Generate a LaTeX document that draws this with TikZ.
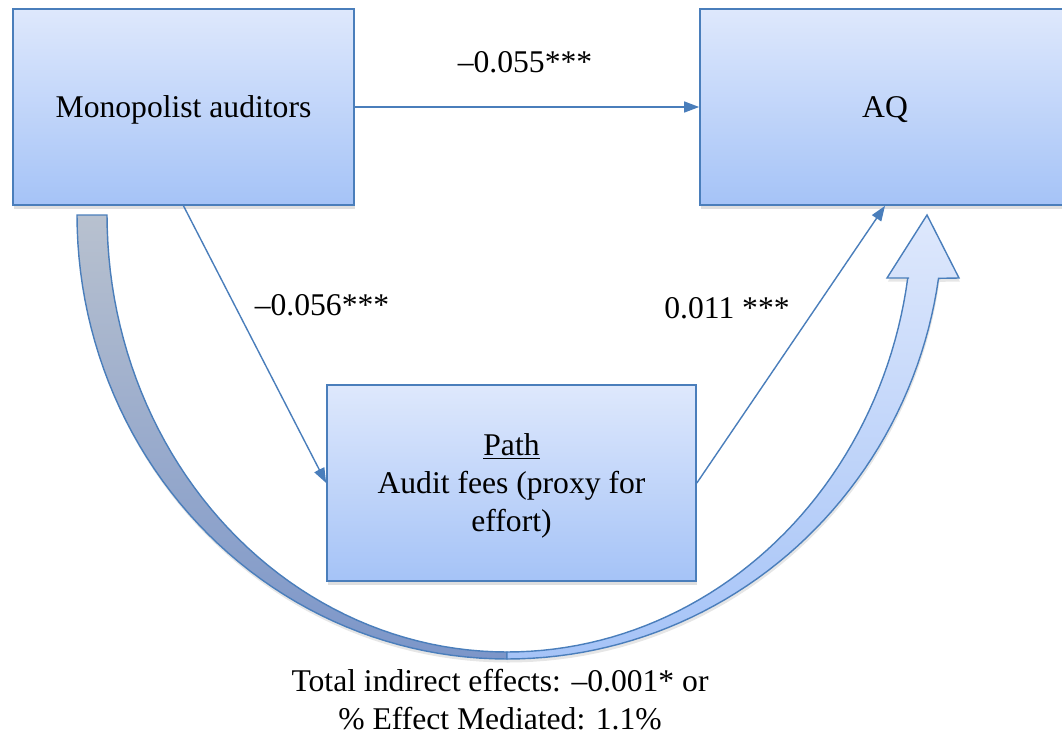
\documentclass[tikz,border=0pt]{standalone}
\usepackage{fontspec}
\setmainfont{Liberation Serif}
\usetikzlibrary{arrows.meta, shadows}
\definecolor{boxline}{HTML}{4A7EBB}
\definecolor{boxtop}{HTML}{DEE8FC}
\definecolor{boxbottom}{HTML}{A5C3F7}
\definecolor{backtop}{HTML}{B8C1CF}
\definecolor{backbottom}{HTML}{7C96C9}

\begin{document}
\begin{tikzpicture}[x=0.02cm, y=-0.02cm,
    box/.style={rectangle, draw=boxline, line width=1pt, top color=boxtop, bottom color=boxbottom,
        minimum height=3.92cm, align=center, font=\fontsize{18}{21.6}\selectfont,
        drop shadow={opacity=0.25, shadow xshift=0.5pt, shadow yshift=-2pt}},
    oneline/.style={text height=16pt, text depth=3.9pt},
    band/.style={draw=boxline, line width=0.8pt,
        drop shadow={opacity=0.2, shadow xshift=0.5pt, shadow yshift=-2pt}},
    link/.style={draw=boxline, line width=0.8pt, -{Triangle[length=0.3cm, width=0.22cm]}},
    value/.style={font=\fontsize{18}{21.6}\selectfont}]
    \useasboundingbox (0, 0) rectangle (1062, 735);
    \clip (0, 0) rectangle (1062, 735);

    % big curved arrow
    \path[band, top color=backtop, bottom color=backbottom]
        plot[domain=180:90, samples=50] ({507+430*cos(\x)}, {215+444*sin(\x)})
        -- plot[domain=90:180, samples=50] ({507+400*cos(\x)}, {215+437*sin(\x)}) -- cycle;
    \path[band, top color=boxtop, bottom color=boxbottom]
        plot[domain=90:8.2, samples=50] ({507+436*cos(\x)}, {215+444*sin(\x)})
        -- (959, 278) -- (927, 215) -- (887, 278) -- (909, 278)
        -- plot[domain=8.3:90, samples=50] ({507+405*cos(\x)}, {215+437*sin(\x)}) -- cycle;

    \node[box, oneline, minimum width=6.82cm] at (183.5, 107) (mono) {Monopolist auditors};
    \node[box, oneline, minimum width=7.4cm] at (885, 107) (aq) {AQ};
    \node[box, minimum width=7.38cm] at (511.5, 483) (fees) {\rule{0pt}{0.891em}\underline{Path}\\Audit fees (proxy for\\effort)};

    \draw[link] (mono.east) -- (aq.west);
    \draw[link] (mono.south) -- (fees.west);
    \draw[link] (fees.east) -- (aq.south);

    \node[value] at (525, 62) (direct) {--0.055***};
    \node[value] at (322, 305) (apath) {--0.056***};
    \node[value] at (727, 308) (bpath) {0.011 ***};
    \node[value, align=center] at (500, 700) (total) {Total indirect effects: --0.001* or\\\% Effect Mediated: 1.1\%};
\end{tikzpicture}
\end{document}
